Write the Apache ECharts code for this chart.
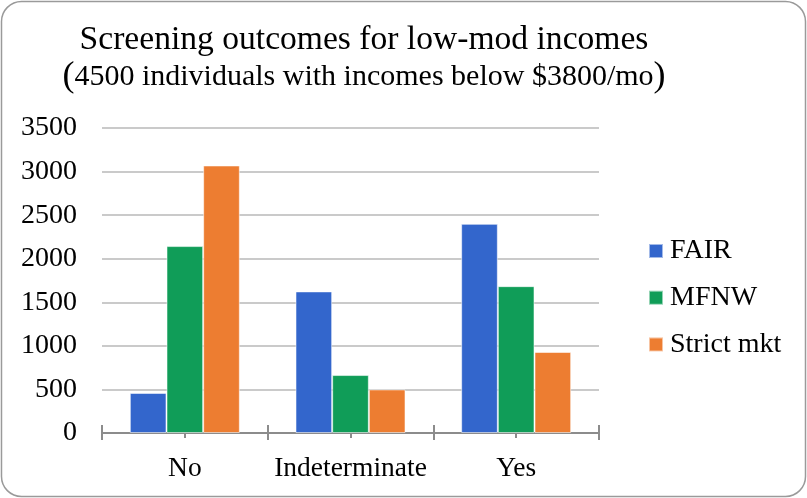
<!DOCTYPE html>
<html>
<head>
<meta charset="utf-8">
<script src="https://cdn.jsdelivr.net/npm/echarts@6/dist/echarts.min.js"></script>
<style>
  html, body { margin: 0; padding: 0; background: #ffffff; }
  #chart { width: 807px; height: 498px; }
</style>
</head>
<body>
<div id="chart"></div>
<script>
// Screening outcomes by scoring method
const categories = ['No', 'Indeterminate', 'Yes'];
const seriesNames = ['FAIR', 'MFNW', 'Strict mkt'];
const fairValues = [460, 1625, 2400];
const mfnwValues = [2145, 665, 1685];
const strictValues = [3070, 500, 930];
const yTicks = [0, 500, 1000, 1500, 2000, 2500, 3000, 3500];

const FONT = 'Liberation Serif';
const colors = ['#3366CC', '#109D58', '#ED7D31'];
const axisGray = '#8c8c8c';

const chart = echarts.init(document.getElementById('chart'), null, { renderer: 'canvas' });

// Four overlapping category axes give ticks that cross the baseline:
// boundary ticks (outside + inside) and centre ticks (outside + inside).
function tickAxis(alignWithLabel, inside, length, showLine, showLabel) {
  return {
    type: 'category',
    data: categories,
    position: 'bottom',
    boundaryGap: true,
    axisLine: { show: showLine, lineStyle: { color: axisGray, width: 2 } },
    axisTick: {
      show: true, interval: 0, alignWithLabel: alignWithLabel,
      inside: inside, length: length,
      lineStyle: { color: axisGray, width: 2 }
    },
    axisLabel: {
      show: showLabel, interval: 0, margin: 22,
      fontFamily: FONT, fontSize: 27.5, color: '#000'
    },
    splitLine: { show: false }
  };
}

const option = {
  backgroundColor: '#ffffff',
  animation: false,
  color: colors,
  title: [
    {
      text: 'Screening outcomes for low-mod incomes',
      left: 359, top: 18, textAlign: 'center',
      textStyle: { fontFamily: FONT, fontSize: 33.6, fontWeight: 'normal', color: '#000' }
    },
    {
      text: '{p|(}{t|4500 individuals with incomes below $3800/mo}{p|)}',
      left: 359, top: 54, textAlign: 'center',
      textStyle: {
        fontFamily: FONT, fontWeight: 'normal', color: '#000',
        rich: {
          p: { fontFamily: FONT, fontSize: 36, color: '#000' },
          t: { fontFamily: FONT, fontSize: 30, color: '#000' }
        }
      }
    }
  ],
  legend: {
    orient: 'vertical',
    left: 648, top: 237,
    padding: 0,
    itemWidth: 14, itemHeight: 14,
    itemGap: 18.7,
    icon: 'rect',
    data: seriesNames,
    textStyle: { fontFamily: FONT, fontSize: 28, color: '#000', padding: [0, 0, 0, 2] }
  },
  grid: { left: 102, right: 208, top: 128, bottom: 65 },
  xAxis: [
    tickAxis(false, false, 7, true, true),
    tickAxis(false, true, 8, false, false),
    tickAxis(true, false, 5, false, false),
    tickAxis(true, true, 6, false, false)
  ],
  yAxis: {
    type: 'value',
    min: 0, max: 3500, interval: 500,
    axisLine: { show: false },
    axisTick: { show: false },
    axisLabel: {
      margin: 25, fontFamily: FONT, fontSize: 28, color: '#000',
      formatter: v => (yTicks.indexOf(v) >= 0 ? String(v) : '')
    },
    splitLine: { lineStyle: { color: '#b8b8b8', width: 1.5 } }
  },
  series: [
    { name: seriesNames[0], data: fairValues },
    { name: seriesNames[1], data: mfnwValues },
    { name: seriesNames[2], data: strictValues }
  ].map(s => ({
    type: 'bar',
    name: s.name,
    data: s.data,
    xAxisIndex: 0,
    barGap: '0%',
    barCategoryGap: '33.6%',
    itemStyle: { borderColor: 'rgba(255,255,255,0.55)', borderWidth: 1 }
  })),
  graphic: [
    {
      type: 'rect',
      shape: { x: 1.5, y: 1.5, width: 804, height: 495, r: 20 },
      style: { fill: 'none', stroke: '#9a9a9a', lineWidth: 1.5 },
      silent: true, z: 100
    }
  ]
};

chart.setOption(option);
</script>
</body>
</html>
